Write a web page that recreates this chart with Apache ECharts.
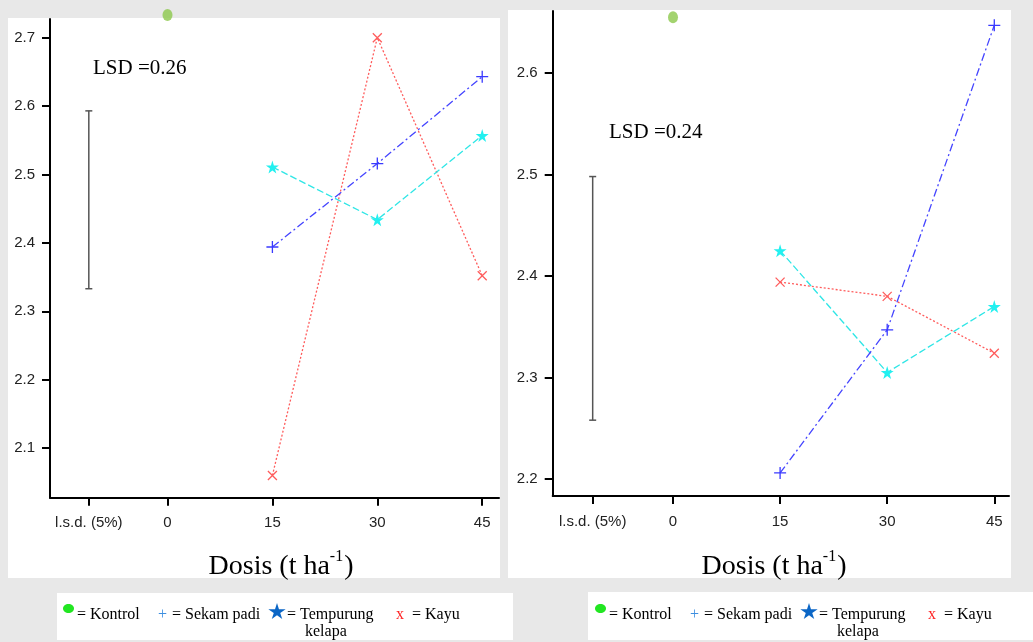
<!DOCTYPE html>
<html>
<head>
<meta charset="utf-8">
<script src="https://cdn.jsdelivr.net/npm/echarts@6/dist/echarts.min.js"></script>
<style>html,body{margin:0;padding:0;background:#e8e8e8;}#c{width:1033px;height:642px;}</style>
</head>
<body>
<div id="c"></div>
<script>
// ---- data ----
const doses = [15, 30, 45];
const xTickValues = [-11.25, 0, 15, 30, 45];
const xTickLabels = ['l.s.d. (5%)', '0', '15', '30', '45'];

// left panel
const yTicksL = [2.1, 2.2, 2.3, 2.4, 2.5, 2.6, 2.7];
const sekamL = [2.394, 2.516, 2.643];
const tempurungL = [2.511, 2.434, 2.557];
const kayuL = [2.060, 2.700, 2.352];
const kontrolL = [2.733];
const lsdRangeL = [2.333, 2.593];
const lsdTextL = 'LSD =0.26';

// right panel
const yTicksR = [2.2, 2.3, 2.4, 2.5, 2.6];
const sekamR = [2.206, 2.347, 2.647];
const tempurungR = [2.425, 2.305, 2.370];
const kayuR = [2.394, 2.380, 2.324];
const kontrolR = [2.655];
const lsdRangeR = [2.258, 2.498];
const lsdTextR = 'LSD =0.24';

const xTitle = 'Dosis (t ha';
const xTitleSup = '-1';
const legendNames = ['= Kontrol', '= Sekam padi', '= Tempurung', 'kelapa', '= Kayu'];

// ---- helpers ----
const PLUS = 'path://M0,5H10M5,0V10';
const CROSS = 'path://M0,0L10,10M10,0L0,10';
const STAR = 'path://M50,0 L61,35 L98,35 L68,57 L79,91 L50,70 L21,91 L32,57 L2,35 L39,35 Z';
const STAR_PTS = [[50,0],[61,35],[98,35],[68,57],[79,91],[50,70],[21,91],[32,57],[2,35],[39,35]];
const serif = 'Liberation Serif, Times New Roman, serif';
const sans = 'Liberation Sans, Arial, sans-serif';

function xAxisDef(gi, min, max) {
  return {
    type: 'value', gridIndex: gi, min: min, max: max,
    axisLine: { show: true, onZero: false, lineStyle: { color: '#000', width: 2 } },
    axisTick: { show: true, customValues: xTickValues, length: 8, lineStyle: { color: '#000', width: 2 } },
    axisLabel: { customValues: xTickValues, margin: 18, fontSize: 15, color: '#222', fontFamily: sans,
      formatter: v => { const i = xTickValues.findIndex(t => Math.abs(t - v) < 1e-6); return i >= 0 ? xTickLabels[i] : ''; } },
    splitLine: { show: false }
  };
}
function yAxisDef(gi, min, max, ticks) {
  return {
    type: 'value', gridIndex: gi, min: min, max: max,
    axisLine: { show: true, onZero: false, lineStyle: { color: '#000', width: 2 } },
    axisTick: { show: true, customValues: ticks, length: 8, lineStyle: { color: '#000', width: 2 } },
    axisLabel: { customValues: ticks, margin: 15, fontSize: 15, color: '#222', fontFamily: sans,
      formatter: v => v.toFixed(1) },
    splitLine: { show: false }
  };
}
function pts(vals) { return doses.map((d, i) => [d, vals[i]]); }
function panelSeries(gi, sekam, temp, kayu, kontrol, lsd) {
  return [
    { type: 'custom', xAxisIndex: gi, yAxisIndex: gi, data: [[xTickValues[0], lsd[0], lsd[1]]],
      renderItem: (params, api) => {
        const lo = api.coord([api.value(0), api.value(1)]);
        const hi = api.coord([api.value(0), api.value(2)]);
        const st = { stroke: '#555', lineWidth: 1.5 };
        return { type: 'group', children: [
          { type: 'line', shape: { x1: lo[0], y1: lo[1], x2: hi[0], y2: hi[1] }, style: st },
          { type: 'line', shape: { x1: lo[0] - 3.5, y1: lo[1], x2: lo[0] + 3.5, y2: lo[1] }, style: st },
          { type: 'line', shape: { x1: hi[0] - 3.5, y1: hi[1], x2: hi[0] + 3.5, y2: hi[1] }, style: st }
        ] };
      }, silent: true },
    { type: 'line', xAxisIndex: gi, yAxisIndex: gi, data: pts(kayu), symbol: CROSS, symbolSize: 9,
      lineStyle: { color: '#ff5c5c', width: 1.3, type: [2, 2] },
      itemStyle: { color: '#ff5c5c', borderColor: '#ff5c5c', borderWidth: 1.3 }, animation: false },
    { type: 'line', xAxisIndex: gi, yAxisIndex: gi, data: pts(temp), symbol: STAR, symbolSize: 13,
      lineStyle: { color: '#2fe6e6', width: 1.3, type: [7, 3] },
      itemStyle: { color: '#22f0f0' }, animation: false },
    { type: 'line', xAxisIndex: gi, yAxisIndex: gi, data: pts(sekam), symbol: PLUS, symbolSize: 12,
      lineStyle: { color: '#4545ff', width: 1.3, type: [8, 3, 2, 3] },
      itemStyle: { color: '#3a3aff', borderColor: '#3a3aff', borderWidth: 1.3 }, animation: false },
    { type: 'scatter', xAxisIndex: gi, yAxisIndex: gi, data: kontrol.map(v => [0, v]), symbol: 'circle',
      symbolSize: [10, 12], clip: false, itemStyle: { color: '#8cc84b' }, animation: false }
  ];
}
function legendGraphics(dx) {
  const t = (x, y, text, color) => ({ type: 'text', x: x + dx, y: y, style: { text: text, fill: color || '#000', font: '16px ' + serif, textVerticalAlign: 'middle' } });
  const sx = 268 + dx, sy = 603;
  return [
    { type: 'ellipse', shape: { cx: 68.5 + dx, cy: 608.5, rx: 5.5, ry: 4.5 }, style: { fill: '#22e622' } },
    t(77, 615, legendNames[0]),
    t(158, 615, '+', '#3d8fe0'),
    t(172, 615, legendNames[1]),
    { type: 'polygon', shape: { points: STAR_PTS.map(p => [sx + p[0] * 0.18, sy + p[1] * 0.176]) }, style: { fill: '#0b66c6' } },
    t(287, 615, legendNames[2]),
    t(305, 632, legendNames[3]),
    t(396, 615, 'x', '#ff2222'),
    t(412, 615, legendNames[4])
  ];
}
function titleGraphic(cx) {
  return { type: 'text', x: cx, y: 565, style: {
    text: '{b|' + xTitle + '}{s|' + xTitleSup + '}{b|)}', textAlign: 'center', textVerticalAlign: 'middle',
    rich: { b: { fontSize: 28, fontFamily: serif, fill: '#000', lineHeight: 32, verticalAlign: 'bottom' },
            s: { fontSize: 16, fontFamily: serif, fill: '#000', lineHeight: 32, verticalAlign: 'top', padding: [0, 1, 0, 0] } } } };
}

const chart = echarts.init(document.getElementById('c'), null, { renderer: 'canvas' });
chart.setOption({
  backgroundColor: '#e8e8e8',
  animation: false,
  grid: [
    { left: 50, top: 19, width: 449, height: 478.7 },
    { left: 552.7, top: 11, width: 456.3, height: 485 }
  ],
  xAxis: [xAxisDef(0, -16.8, 47.4), xAxisDef(1, -16.85, 47.06)],
  yAxis: [yAxisDef(0, 2.0275, 2.7273, yTicksL), yAxisDef(1, 2.1833, 2.6611, yTicksR)],
  graphic: [
    { type: 'rect', z: -10, shape: { x: 8, y: 18, width: 492, height: 560 }, style: { fill: '#fff' } },
    { type: 'rect', z: -10, shape: { x: 508, y: 10, width: 503, height: 568 }, style: { fill: '#fff' } },
    { type: 'rect', z: -10, shape: { x: 57, y: 593, width: 456, height: 47 }, style: { fill: '#fff' } },
    { type: 'rect', z: -10, shape: { x: 588, y: 592, width: 445, height: 48 }, style: { fill: '#fff' } },
    { type: 'text', x: 93, y: 68, style: { text: lsdTextL, font: '21px ' + serif, fill: '#000', textVerticalAlign: 'middle' } },
    { type: 'text', x: 609, y: 132, style: { text: lsdTextR, font: '21px ' + serif, fill: '#000', textVerticalAlign: 'middle' } },
    titleGraphic(281),
    titleGraphic(774)
  ].concat(legendGraphics(0), legendGraphics(532)),
  series: panelSeries(0, sekamL, tempurungL, kayuL, kontrolL, lsdRangeL)
    .concat(panelSeries(1, sekamR, tempurungR, kayuR, kontrolR, lsdRangeR))
});
</script>
</body>
</html>
